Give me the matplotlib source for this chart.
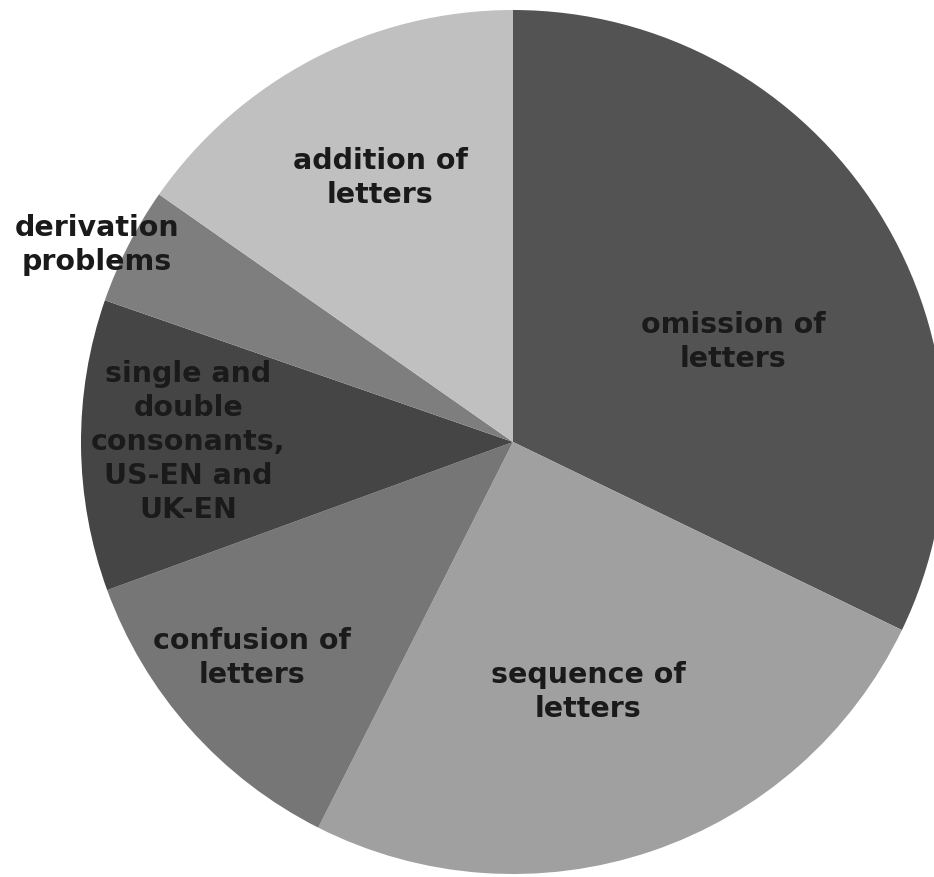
import matplotlib
matplotlib.use("Agg")
import matplotlib.pyplot as plt

## Spelling error categories (share of errors, %)
labels = ["omission of\nletters", "sequence of\nletters", "confusion of\nletters",
          "single and\ndouble\nconsonants,\nUS-EN and\nUK-EN",
          "derivation\nproblems", "addition of\nletters"]
values = [32.2, 25.3, 12.0, 10.9, 4.4, 15.3]
colors = ["#535353", "#a0a0a0", "#767676", "#454545", "#7e7e7e", "#c0c0c0"]

# label positions in pie units (radius = 1)
label_pos = [(0.509, 0.234), (0.174, -0.576), (-0.604, -0.498),
             (-0.752, 0.002), (-0.963, 0.458), (-0.308, 0.613)]

fig = plt.figure(figsize=(9.34, 8.78), dpi=100)
ax = fig.add_axes([81 / 934, 3 / 878, 864 / 934, 864 / 878])

ax.pie(values, colors=colors, startangle=90, counterclock=False,
       radius=1, wedgeprops={"linewidth": 0})
ax.set_xlim(-1, 1)
ax.set_ylim(-1, 1)
ax.axis("off")

for lab, (x, y) in zip(labels, label_pos):
    ax.text(x, y, lab, ha="center", va="center", fontsize=20.5,
            fontweight="bold", color="#1a1a1a", linespacing=1.28,
            family="DejaVu Sans")

fig.savefig("out.png", dpi=100)
